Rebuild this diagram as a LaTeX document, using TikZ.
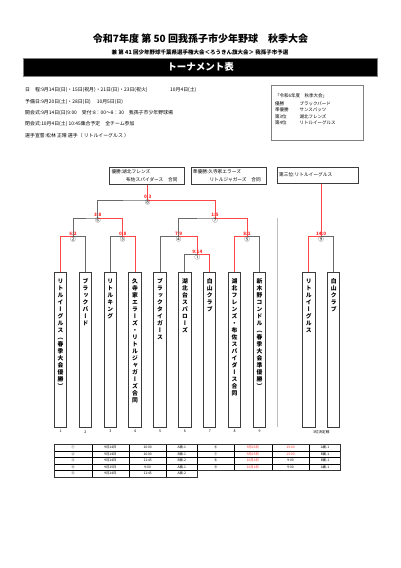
\documentclass[tikz,border=0pt]{standalone}
\usepackage{fontspec}
\setmainfont{Noto Sans CJK JP}
\newfontfamily\vjp[RawFeature=+vert]{Noto Sans CJK JP}
\usetikzlibrary{calc}
\definecolor{lred}{RGB}{255,70,70}
\definecolor{sred}{RGB}{255,40,40}
\definecolor{lgray}{RGB}{105,105,105}
\definecolor{bdr}{RGB}{60,60,60}
\makeatletter
\newcommand\vjtext[1]{\vbox{\offinterlineskip\@tfor\vj@c:=#1\do{\hbox to 8pt{\vrule height 5.4pt depth 1.6pt width 0pt\hss\vj@c\hss}}}}
\makeatother
\begin{document}
\begin{tikzpicture}[x=1pt,y=-1pt,
 gline/.style={draw=lgray,line width=0.9pt},
 rline/.style={draw=lred,line width=0.9pt},
 teambox/.style={draw=bdr,line width=1pt,minimum width=12.4pt,minimum height=155.5pt,anchor=north,inner sep=0pt},
 tname/.style={anchor=north,inner sep=0pt,font=\vjp\bfseries\fontsize{5.8}{7}\selectfont},
 score/.style={anchor=south,inner sep=0pt,text=sred,font=\bfseries\fontsize{4.6}{5}\selectfont},
 circ/.style={inner sep=0pt,font=\fontsize{5.5}{5.5}\selectfont},
 tnum/.style={inner sep=0pt,font=\fontsize{3.6}{4}\selectfont},
 info/.style={anchor=west,inner sep=0pt,font=\fontsize{4.9}{5}\selectfont},
 binfo/.style={anchor=west,inner sep=0pt,font=\fontsize{4.5}{5}\selectfont},
 rtext/.style={anchor=west,inner sep=0pt,font=\fontsize{4.7}{5}\selectfont},
 cell/.style={inner sep=0pt,font=\fontsize{3.3}{3.5}\selectfont},
 resbox/.style={draw=bdr,line width=0.9pt,minimum height=17pt,inner sep=0pt,anchor=north west},
]
\useasboundingbox (0,0) rectangle (401,568);
\fill[white] (0,0) rectangle (401,568);

% titles
\node[font=\bfseries\fontsize{10}{10}\selectfont] (title) at (200.5,38.3) {令和7年度 第 50 回我孫子市少年野球　秋季大会};
\node[font=\bfseries\fontsize{5.5}{6}\selectfont] (sub) at (200,52.3) {兼 第 41 回少年野球千葉県選手権大会＜ろうきん旗大会＞ 我孫子市予選};
\node[fill=black,draw=gray,minimum width=354pt,minimum height=17.7pt,inner sep=0pt,anchor=north west] (bar) at (23.3,58.3) {};
\node[text=white,font=\bfseries\fontsize{9.5}{10}\selectfont] (bartext) at (bar.center) {トーナメント表};

% info lines
\node[info] (i1) at (25,90) {日　程:9月14日(日)・15日(祝月)・21日(日)・23日(祝火)};
\node[info] (i1b) at (170,90) {10月4日(土)};
\node[info] (i2) at (25,102) {予備日:9月20日(土)・28日(日)　 10月5日(日)};
\node[info] (i3) at (25,113.3) {開会式:9月14日(日)9:00　受付:8：00～8：30　我孫子市少年野球場};
\node[info] (i4) at (25,124.3) {閉会式:10月4日(土) 10:45集合予定　全チーム参加};
\node[info] (i5) at (25,136) {選手宣誓:松林 正晴 選手（ リトルイーグルス ）};

% previous results box
\node[draw=gray,line width=0.6pt,minimum width=92pt,minimum height=55pt,inner sep=0pt,anchor=north west] (ibox) at (271,85) {};
\node[binfo] (p0) at (275,95.7) {「令和6年度　秋季大会」};
\node[binfo] (p1) at (275,104) {優勝};
\node[binfo] (p1v) at (299.3,104) {ブラックバード};
\node[binfo] (p2) at (275,110.2) {準優勝};
\node[binfo] (p2v) at (299.3,110.2) {サンスパッツ};
\node[binfo] (p3) at (275,116.4) {第3位};
\node[binfo] (p3v) at (299.3,116.4) {湖北フレンズ};
\node[binfo] (p4) at (275,122.7) {第4位};
\node[binfo] (p4v) at (299.3,122.7) {リトルイーグルス};

% result boxes
\node[resbox,minimum width=75pt] (b1) at (109,167) {};
\node[rtext] (b1a) at (111.3,171.2) {優勝:湖北フレンズ};
\node[rtext] (b1b) at (126,179.4) {布佐スパイダース　合同};
\node[resbox,minimum width=75pt] (b2) at (191,167) {};
\node[rtext] (b2a) at (192.7,171.2) {準優勝:久寺家エラーズ};
\node[rtext] (b2b) at (209.3,179.4) {リトルジャガーズ　合同};
\node[resbox,minimum width=81pt,minimum height=16pt] (b3) at (277,167) {};
\node[rtext] (b3a) at (279,175) {第三位:リトルイーグルス};

% divider
\draw[draw=black!25,line width=1.3pt] (277.7,218) -- (277.7,426.7);

% team boxes
\foreach \i/\x/\nm in {1/60.5/リトルイーグルス（春季大会優勝）,2/85.4/ブラックバード,3/110.3/リトルキング,4/135.1/久寺家エラーズ・リトルジャガーズ合同,5/160/ブラックタイガース,6/184.9/湖北台スパローズ,7/209.75/白山クラブ,8/234.6/湖北フレンズ・布佐スパイダース合同,9/259.5/新木野コンドル（春季大会準優勝）}{
  \node[teambox] (t\i) at (\x,271.7) {};
  \node[tname] (t\i txt) at (\x,278.3) {\expandafter\vjtext\expandafter{\nm}};
  \node[tnum] (n\i) at (\x,431.7) {\i};
}
\node[teambox] (tA) at (308.8,271.7) {};
\node[tname] (tAtxt) at (308.8,278.3) {\vjtext{リトルイーグルス}};
\node[teambox] (tB) at (333.7,271.7) {};
\node[tname] (tBtxt) at (333.7,278.3) {\vjtext{白山クラブ}};
\node[tnum] (nAB) at (321.2,431.7) {3位決定戦};

% junctions
\coordinate (m1) at (197.3,254.3);
\coordinate (m2) at (73,236.7);
\coordinate (m3) at (122.7,236.7);
\coordinate (m4) at (178.65,236.7);
\coordinate (m5) at (247,236.7);
\coordinate (m6) at (97.85,218);
\coordinate (m7) at (215,218);
\coordinate (m8) at (147.7,200);
\coordinate (m9) at (321.2,236.3);

% bracket lines
\draw[gline] (t6.north) |- (m1) -| (t7.north);
\draw[rline] (m1) -| (t7.north);
\draw[gline] (t1.north) |- (m2) -| (t2.north);
\draw[rline] (m2) -| (t1.north);
\draw[gline] (t3.north) |- (m3) -| (t4.north);
\draw[rline] (m3) -| (t4.north);
\draw[gline] (t5.north) |- (m4) -| (m1);
\draw[rline] (m4) -| (m1);
\draw[gline] (t8.north) |- (m5) -| (t9.north);
\draw[rline] (m5) -| (t8.north);
\draw[gline] (m2) |- (m6) -| (m3);
\draw[rline] (m6) -| (m3);
\draw[gline] (m4) |- (m7) -| (m5);
\draw[rline] (m7) -| (m5);
\draw[gline] (m6) |- (m8) -| (m7);
\draw[rline] (m8) -| (m7);
\draw[rline] (b1.south -| m8) -- (m8);
\draw[gline] (tA.north) |- (m9) -| (tB.north);
\draw[rline] (m9) -| (tA.north);
\draw[rline] (b3.south -| m9) -- (m9);

% circles and scores
\foreach \m/\c/\s in {m1/①/9:14,m2/②/6:2,m3/③/0:8,m4/④/7:9,m5/⑤/8:1,m6/⑥/3:8,m7/⑦/1:5,m8/⑧/0:3,m9/⑨/14:0}{
  \node[circ] (c\m) at ($(\m)+(0,2.7)$) {\c};
  \node[score] (s\m) at ($(\m)+(0,-0.9)$) {\s};
}

% schedule table
\draw[line width=0.4pt] (54.3,450.84) -- (340.7,450.84) (54.3,457.38) -- (340.7,457.38) (54.3,463.92) -- (340.7,463.92);
\draw[line width=0.4pt] (91.7,444.3) -- (91.7,477) (129,444.3) -- (129,477) (166.3,444.3) -- (166.3,477) (197.3,444.3) -- (197.3,470.46)
  (234,444.3) -- (234,470.46) (271.7,444.3) -- (271.7,470.46) (309.3,444.3) -- (309.3,470.46) (54.3,470.46) -- (197.3,470.46);
\draw[line width=1pt,draw=black!80] (54.3,444.3) -- (340.7,444.3) -- (340.7,470.46) -- (197.3,470.46) -- (197.3,477) -- (54.3,477) -- cycle;
\foreach \r/\n/\d/\t/\c in {1/①/9月14日/10:00/A面-1,2/②/9月14日/10:00/B面-1,3/③/9月14日/11:45/B面-2,4/④/9月15日/9:00/A面-1,5/⑤/9月14日/11:45/A面-2}{
  \pgfmathsetmacro\yy{444.3+6.54*(\r-0.5)}
  \node[cell] (L\r a) at (73,\yy) {\n};
  \node[cell] (L\r b) at (110.35,\yy) {\d};
  \node[cell] (L\r c) at (147.65,\yy) {\t};
  \node[cell] (L\r d) at (181.8,\yy) {\c};
}
\foreach \r/\n/\d/\t/\c/\tc in {1/⑥/9月23日/13:00/A面-1/sred,2/⑦/9月23日/13:00/B面-1/sred,3/⑧/10月4日/9:00/B面-1/black,4/⑨/10月4日/9:00/A面-1/black}{
  \pgfmathsetmacro\yy{444.3+6.54*(\r-0.5)}
  \node[cell] (R\r a) at (215.65,\yy) {\n};
  \node[cell,text=sred] (R\r b) at (252.85,\yy) {\d};
  \node[cell,text=\tc] (R\r c) at (290.5,\yy) {\t};
  \node[cell] (R\r d) at (325,\yy) {\c};
}
\end{tikzpicture}
\end{document}
